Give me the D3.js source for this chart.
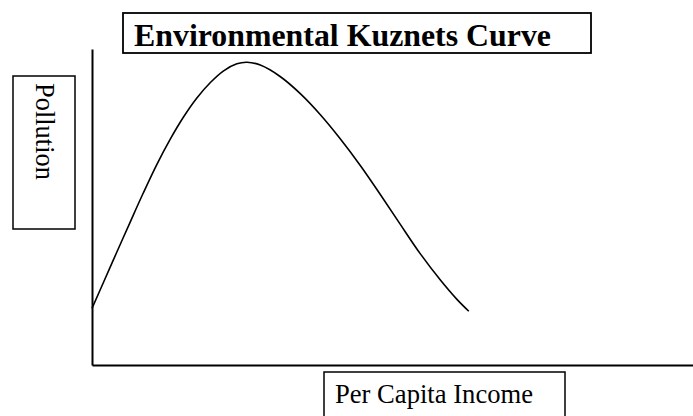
<!DOCTYPE html>
<html>
<head>
<meta charset="utf-8">
<script src="https://cdn.jsdelivr.net/npm/d3@7"></script>
<style>
  html, body { margin: 0; padding: 0; background: #fff; }
  svg { display: block; }
  text { font-family: "Liberation Serif", "Times New Roman", serif; fill: #000; }
</style>
</head>
<body>
<svg id="chart" width="693" height="416"></svg>
<script>
// ---- data ----
const income    = [0, 0.19, 0.41, 0.63, 0.855, 1.08, 1.30, 1.52, 1.745, 1.97, 2.19, 2.41, 2.58, 2.80, 3.13, 3.47, 3.80, 4.13, 4.47, 4.80, 5.13, 5.47, 5.80, 6.08, 6.27];
const pollution = [1.79, 2.61, 3.56, 4.50, 5.45, 6.35, 7.14, 7.84, 8.45, 8.94, 9.31, 9.53, 9.58, 9.49, 9.13, 8.58, 7.92, 7.16, 6.30, 5.39, 4.45, 3.50, 2.68, 2.06, 1.70];
const chartTitle = "Environmental Kuznets Curve";
const xLabel = "Per Capita Income";
const yLabel = "Pollution";

const svg = d3.select("#chart");
const x = d3.scaleLinear().domain([0, 10]).range([92, 693]);
const y = d3.scaleLinear().domain([0, 10]).range([365, 49]);

// axes (no ticks)
svg.append("g")
  .attr("transform", `translate(0,${y(0)})`)
  .call(d3.axisBottom(x).tickValues([]).tickSizeOuter(0))
  .select(".domain").attr("stroke", "#000").attr("stroke-width", 2);
svg.append("g")
  .attr("transform", `translate(${x(0)},0)`)
  .call(d3.axisLeft(y).tickValues([]).tickSizeOuter(0))
  .select(".domain").attr("stroke", "#000").attr("stroke-width", 2);

// curve
const pts = income.map((v, i) => [v, pollution[i]]);
svg.append("path")
  .datum(pts)
  .attr("fill", "none")
  .attr("stroke", "#000")
  .attr("stroke-width", 1.6)
  .attr("stroke-linejoin", "round")
  .attr("d", d3.line().x(d => x(d[0])).y(d => y(d[1])).curve(d3.curveCatmullRom.alpha(0.5)));

// title box
svg.append("rect").attr("x", 123).attr("y", 13).attr("width", 468).attr("height", 40)
  .attr("fill", "#fff").attr("stroke", "#000").attr("stroke-width", 1.8);
svg.append("text").attr("x", 134).attr("y", 46)
  .attr("font-size", 31.5).attr("font-weight", "bold")
  .attr("textLength", 417).attr("lengthAdjust", "spacingAndGlyphs")
  .text(chartTitle);

// y label box
svg.append("rect").attr("x", 13).attr("y", 76).attr("width", 62).attr("height", 153)
  .attr("fill", "#fff").attr("stroke", "#000").attr("stroke-width", 1.5);
svg.append("text")
  .attr("transform", "translate(36,83) rotate(90)")
  .attr("font-size", 26.5)
  .attr("textLength", 97).attr("lengthAdjust", "spacingAndGlyphs")
  .text(yLabel);

// x label box
svg.append("rect").attr("x", 324).attr("y", 372).attr("width", 241).attr("height", 60)
  .attr("fill", "#fff").attr("stroke", "#000").attr("stroke-width", 1.5);
svg.append("text").attr("x", 335).attr("y", 403)
  .attr("font-size", 27)
  .attr("textLength", 198).attr("lengthAdjust", "spacingAndGlyphs")
  .text(xLabel);
</script>
</body>
</html>
